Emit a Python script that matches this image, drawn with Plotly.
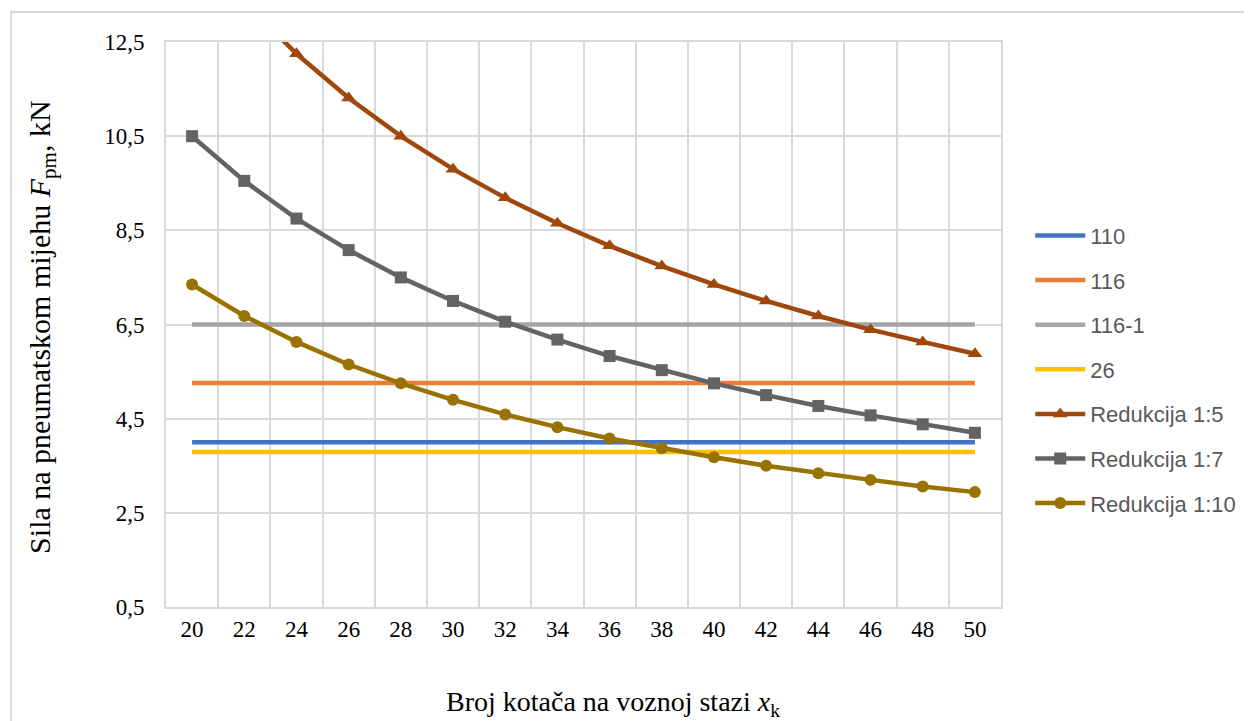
import plotly.graph_objects as go

x_vals = [20, 22, 24, 26, 28, 30, 32, 34, 36, 38, 40, 42, 44, 46, 48, 50]
x_labels = [str(v) for v in x_vals]

s110 = [4.00] * 16
s116 = [5.26] * 16
s116_1 = [6.50] * 16
s26 = [3.79] * 16
red_1_5 = [14.70, 13.36, 12.25, 11.31, 10.50, 9.80, 9.19, 8.65, 8.17, 7.74, 7.35, 7.00, 6.68, 6.39, 6.13, 5.88]
red_1_7 = [10.50, 9.55, 8.75, 8.08, 7.50, 7.00, 6.56, 6.18, 5.83, 5.53, 5.25, 5.00, 4.77, 4.57, 4.38, 4.20]
red_1_10 = [7.35, 6.68, 6.13, 5.65, 5.25, 4.90, 4.59, 4.32, 4.08, 3.87, 3.68, 3.50, 3.34, 3.20, 3.06, 2.94]

y_ticks = [0.5, 2.5, 4.5, 6.5, 8.5, 10.5, 12.5]

series = [
    ("110", s110, "#4472C4", None, 0),
    ("116", s116, "#ED7D31", None, 0),
    ("116-1", s116_1, "#A5A5A5", None, 0),
    ("26", s26, "#FFC000", None, 0),
    ("Redukcija 1:5", red_1_5, "#9E480E", "triangle-up", 13),
    ("Redukcija 1:7", red_1_7, "#636363", "square", 12),
    ("Redukcija 1:10", red_1_10, "#997300", "circle", 12),
]

fig = go.Figure()
for i, (name, vals, color, sym, msize) in enumerate(series):
    if sym:
        fig.add_trace(go.Scatter(
            x=x_labels, y=vals, name=name, mode="lines+markers",
            line=dict(color=color, width=4.5),
            marker=dict(symbol=sym, size=msize, color=color),
            legendgroup=f"g{i}"))
    else:
        fig.add_trace(go.Scatter(
            x=x_labels, y=vals, name=name, mode="lines",
            line=dict(color=color, width=4.5),
            legendgroup=f"g{i}"))

serif = "Liberation Serif"

fig.update_layout(
    width=1252, height=721,
    margin=dict(l=158, r=259, t=34, b=122),
    paper_bgcolor="white", plot_bgcolor="white",
    separators=", ",
    showlegend=True,
    legend=dict(
        x=1.035, xanchor="left", y=0.42, yanchor="middle",
        font=dict(family="Liberation Sans", size=22, color="#595959"),
        tracegroupgap=13, itemwidth=50, traceorder="grouped",
    ),
    xaxis=dict(
        type="category", tickson="boundaries",
        ticks="outside", ticklen=8, tickcolor="rgba(0,0,0,0)",
        showgrid=True, gridcolor="#D9D9D9", gridwidth=2,
        showline=True, linecolor="#D9D9D9", linewidth=2, mirror=True,
        tickfont=dict(family=serif, size=23, color="black"),
        range=[-0.5, 15.5],
    ),
    yaxis=dict(
        range=[0.5, 12.5], tickvals=y_ticks,
        tickformat=".1f",
        showgrid=True, gridcolor="#D9D9D9", gridwidth=2,
        zeroline=False,
        showline=True, linecolor="#D9D9D9", linewidth=2, mirror=True,
        ticks="outside", ticklen=15, tickcolor="rgba(0,0,0,0)",
        tickfont=dict(family=serif, size=23, color="black"),
    ),
    annotations=[
        dict(text="Broj kotača na voznoj stazi <i>x</i><sub>k</sub>",
             xref="paper", yref="paper", x=0.535, y=-0.170,
             xanchor="center", yanchor="middle", showarrow=False,
             font=dict(family=serif, size=28, color="black")),
        dict(text="Sila na pneumatskom mijehu <i>F</i><sub>pm</sub>, kN",
             xref="paper", yref="paper", x=-0.1485, y=0.494,
             xanchor="center", yanchor="middle", showarrow=False, textangle=-90,
             font=dict(family=serif, size=30, color="black")),
    ],
    shapes=[dict(type="rect", xref="paper", yref="paper",
                 x0=-0.1856, x1=1.5, y0=-0.6, y1=1.053,
                 line=dict(color="#D9D9D9", width=2), layer="below")],
)

fig.write_html("out.html")
